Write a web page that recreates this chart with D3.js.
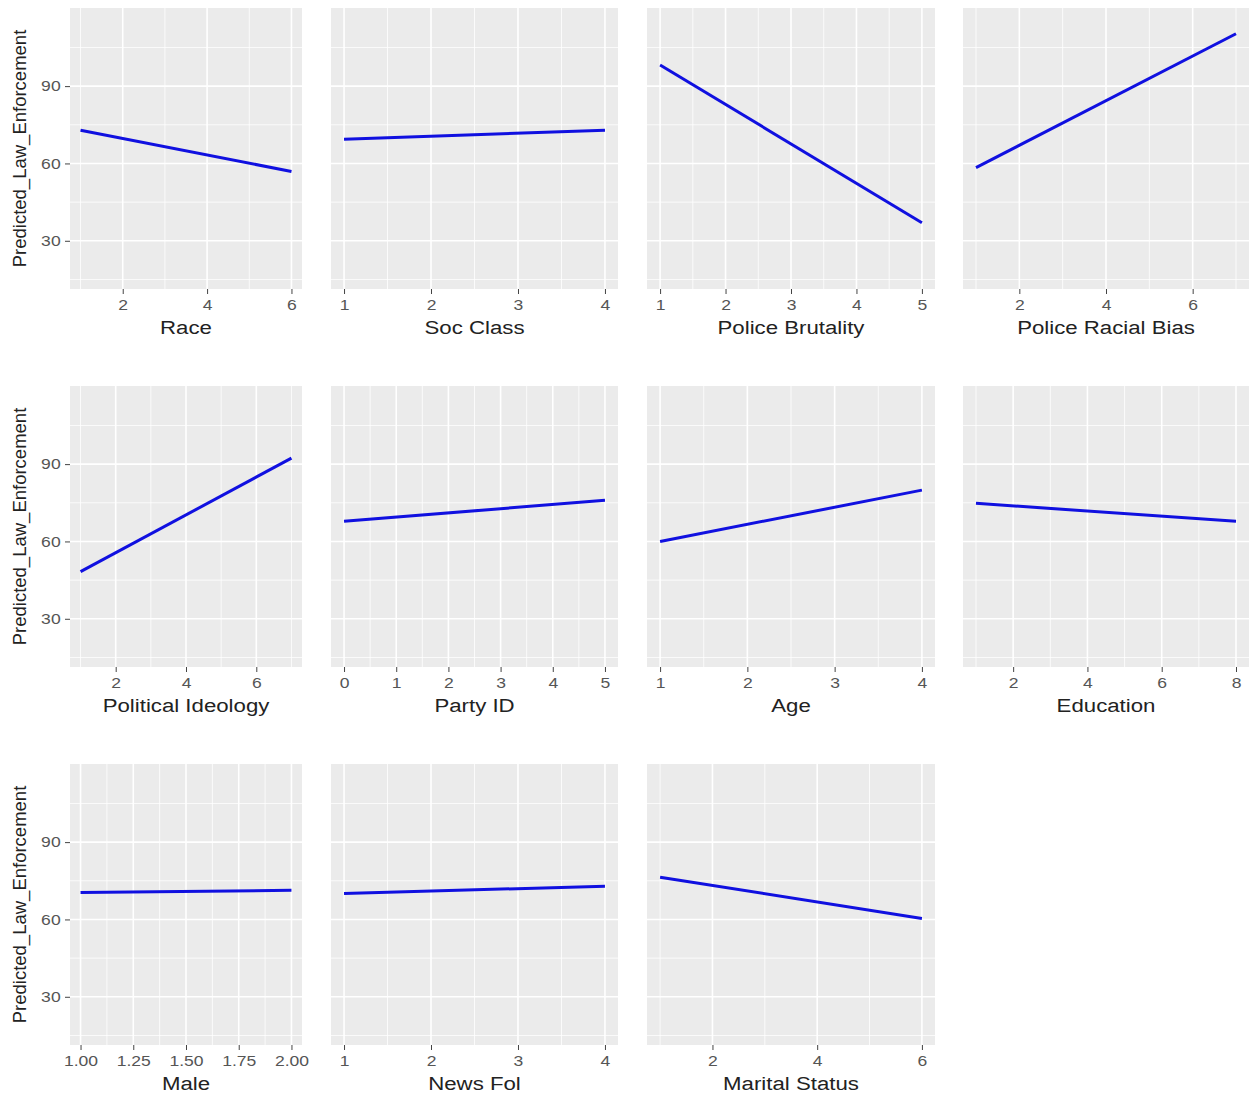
<!DOCTYPE html>
<html>
  <script src="https://cdn.jsdelivr.net/npm/d3@7"></script>
  <body style="margin:0;background:#fff">
    <script>
var width = 1250;
var height = 1094;

// data
var names = ['Race', 'Soc Class', 'Police Brutality', 'Police Racial Bias',
  'Political Ideology', 'Party ID', 'Age', 'Education',
  'Male', 'News Fol', 'Marital Status'];
var xStart = [1, 1, 1, 1, 1, 0, 1, 1, 1, 1, 1];
var xEnd   = [6, 4, 5, 7, 7, 5, 4, 8, 2, 4, 6];
var yStart = [72.9, 69.4, 98.2, 58.4, 48.3, 67.8, 60.0, 74.8, 70.5, 70.1, 76.4];
var yEnd   = [56.9, 72.9, 37.0, 110.3, 92.3, 76.0, 79.9, 67.8, 71.3, 72.9, 60.4];
var xTicks = [[2, 4, 6], [1, 2, 3, 4], [1, 2, 3, 4, 5], [2, 4, 6],
  [2, 4, 6], [0, 1, 2, 3, 4, 5], [1, 2, 3, 4], [2, 4, 6, 8],
  [1, 1.25, 1.5, 1.75, 2], [1, 2, 3, 4], [2, 4, 6]];
var xFormat = ['d', 'd', 'd', 'd', 'd', 'd', 'd', 'd', '.2f', 'd', 'd'];
var yTicks = [30, 60, 90];
var yMinor = [15, 45, 75, 105];
var yLimits = [11.3, 120.3];
var yTitle = 'Predicted_Law_Enforcement';

// layout
var colX = [[70, 302], [331, 618], [647, 935], [963, 1249]];
var rowY = [[8, 289], [386, 667], [764, 1045]];
var stretch = 1.17; // the source picture is a bit wide

var svg = d3.select('body').append('svg')
  .attr('width', width).attr('height', height)
  .style('font-family', '"Liberation Sans", Arial, sans-serif');

svg.append('rect').attr('width', width).attr('height', height).style('fill', '#fff');

names.forEach(function(name, i) {
  var row = Math.floor(i / 4), col = i % 4;
  var x0 = colX[col][0], x1 = colX[col][1];
  var y0 = rowY[row][0], y1 = rowY[row][1];

  var pad = (xEnd[i] - xStart[i]) * 0.05;
  var x = d3.scaleLinear().domain([xStart[i] - pad, xEnd[i] + pad]).range([x0, x1]);
  var y = d3.scaleLinear().domain(yLimits).range([y1, y0]);

  var g = svg.append('g');
  g.append('rect')
    .attr('x', x0).attr('y', y0)
    .attr('width', x1 - x0).attr('height', y1 - y0)
    .style('fill', '#ebebeb');

  // minor x grid: midpoints, extended one step each side
  var t = xTicks[i];
  var step = t[1] - t[0];
  var minorX = [];
  for (var k = -1; k < t.length; k++) {
    var v = t[0] + (k + 0.5) * step;
    if (v >= x.domain()[0] && v <= x.domain()[1]) minorX.push(v);
  }
  g.selectAll('.mx').data(minorX).enter().append('line')
    .attr('x1', function(d) { return x(d); }).attr('x2', function(d) { return x(d); })
    .attr('y1', y0).attr('y2', y1)
    .style('stroke', '#fff').style('stroke-width', 0.8);
  g.selectAll('.my').data(yMinor).enter().append('line')
    .attr('x1', x0).attr('x2', x1)
    .attr('y1', function(d) { return y(d); }).attr('y2', function(d) { return y(d); })
    .style('stroke', '#fff').style('stroke-width', 0.8);
  g.selectAll('.gx').data(t).enter().append('line')
    .attr('x1', function(d) { return x(d); }).attr('x2', function(d) { return x(d); })
    .attr('y1', y0).attr('y2', y1)
    .style('stroke', '#fff').style('stroke-width', 1.6);
  g.selectAll('.gy').data(yTicks).enter().append('line')
    .attr('x1', x0).attr('x2', x1)
    .attr('y1', function(d) { return y(d); }).attr('y2', function(d) { return y(d); })
    .style('stroke', '#fff').style('stroke-width', 1.6);

  // the fitted line
  var pts = [[xStart[i], yStart[i]], [xEnd[i], yEnd[i]]];
  g.append('path')
    .datum(pts)
    .attr('d', d3.line().x(function(d) { return x(d[0]); }).y(function(d) { return y(d[1]); }))
    .style('fill', 'none').style('stroke', '#1010e0').style('stroke-width', 3);

  // x axis
  var xAxis = d3.axisBottom(x).tickValues(t).tickFormat(d3.format(xFormat[i]))
    .tickSizeInner(5).tickSizeOuter(0).tickPadding(5);
  var ax = g.append('g').attr('transform', 'translate(0,' + y1 + ')').call(xAxis);
  ax.select('.domain').remove();
  ax.selectAll('line').style('stroke', '#444');
  ax.selectAll('text')
    .attr('transform', 'scale(' + stretch + ',1)')
    .style('font-size', '15px').style('fill', '#555').style('font-family', null);

  g.append('text')
    .attr('transform', 'translate(' + ((x0 + x1) / 2) + ',' + (y1 + 45) + ') scale(' + stretch + ',1)')
    .attr('text-anchor', 'middle')
    .style('font-size', '19px').style('fill', '#222')
    .text(name);

  if (col === 0) {
    var yAxis = d3.axisLeft(y).tickValues(yTicks).tickSizeInner(5).tickSizeOuter(0).tickPadding(3);
    var ay = g.append('g').attr('transform', 'translate(' + x0 + ',0)').call(yAxis);
    ay.select('.domain').remove();
    ay.selectAll('line').style('stroke', '#444');
    ay.selectAll('text')
      .attr('transform', 'scale(' + stretch + ',1)')
      .style('font-size', '15px').style('fill', '#555').style('font-family', null);

    g.append('text')
      .attr('transform', 'translate(26,' + ((y0 + y1) / 2) + ') rotate(-90)')
      .attr('text-anchor', 'middle')
      .style('font-size', '18.5px').style('fill', '#222')
      .text(yTitle);
  }
});
    </script>
  </body>
</html>
